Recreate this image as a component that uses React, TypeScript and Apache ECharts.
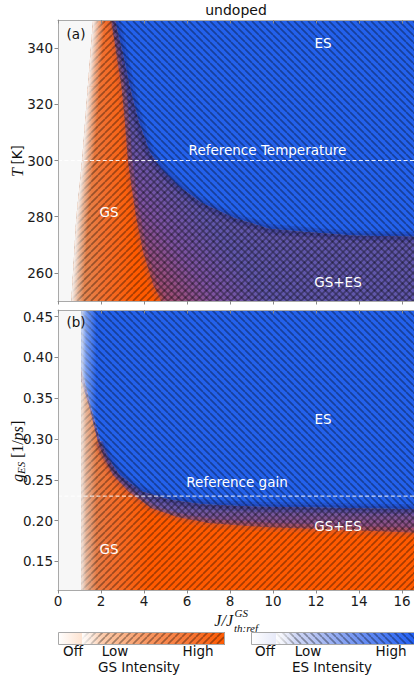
import { useEffect, useRef } from 'react';
import * as echarts from 'echarts';

// ---------- data ----------
// x axis: J / J_th:ref^GS
const J_RANGE = [0, 17];
const X_TICKS = [0, 2, 4, 6, 8, 10, 12, 14, 16];

// Panel (a): temperature T [K]
const T_RANGE = [250, 350];
const T_TICKS = [260, 280, 300, 320, 340];
const REF_T = 300;
// GS lasing threshold (left edge of colour)
const T_GS_TH = [350, 326.5, 300, 279.5, 250];
const J_GS_TH = [1.63, 1.39, 1.12, 0.85, 0.62];
// ES lasing threshold (orange -> purple/blue)
const T_ES_TH = [350, 338, 326.5, 314.7, 300, 291, 279.5, 267.6, 255.9, 250];
const J_ES_TH = [2.48, 2.71, 2.95, 3.1, 3.25, 3.41, 3.64, 3.95, 4.42, 4.8];
// GS quenching (purple -> blue)
const T_GS_Q = [350, 338, 326.5, 314.7, 303, 297, 291, 285, 279.5, 277, 275.7, 274.6, 273.3, 272.9, 272.7];
const J_GS_Q = [2.64, 3.02, 3.33, 3.72, 4.26, 4.8, 5.58, 6.67, 8.2, 9.3, 9.8, 11.4, 13.7, 16.7, 18];

// Panel (b): ES gain g_ES [1/ps]
const G_RANGE = [0.115, 0.458];
const G_TICKS = [0.15, 0.2, 0.25, 0.3, 0.35, 0.4, 0.45];
const REF_G = 0.23;
const JB_GS_TH = 1.1;
const G_ES_TH = [0.458, 0.37, 0.337, 0.296, 0.276, 0.256, 0.236, 0.215, 0.204, 0.197, 0.194, 0.192, 0.189, 0.185, 0.184];
const JB_ES_TH = [1.1, 1.1, 1.48, 1.86, 2.17, 2.56, 3.26, 4.34, 5.58, 7.0, 8.5, 9.8, 12.9, 16.7, 18];
const G_GS_Q = [0.385, 0.337, 0.296, 0.276, 0.256, 0.236, 0.226, 0.22, 0.217, 0.216, 0.214, 0.214];
const JB_GS_Q = [1.1, 1.55, 1.98, 2.33, 2.87, 3.87, 5.15, 6.7, 9.3, 12, 16.7, 18];

// ---------- styling ----------
const FONT = 'DejaVu Sans';
const SERIF = 'Liberation Serif';
const BG = '#f7f7f7';
const BLUE = '#2361ec';

function hatch(dir: number, size = 7, lw = 1.7, color = 'rgba(0,0,0,0.34)') {
  const cv = document.createElement('canvas');
  cv.width = size;
  cv.height = size;
  const ctx = cv.getContext('2d')!;
  ctx.strokeStyle = color;
  ctx.lineWidth = lw;
  ctx.beginPath();
  for (let k = -1; k <= 1; k++) {
    if (dir === 1) {
      ctx.moveTo(k * size, size);
      ctx.lineTo(k * size + size, 0);
    } else {
      ctx.moveTo(k * size, 0);
      ctx.lineTo(k * size + size, size);
    }
  }
  ctx.stroke();
  return { image: cv.toDataURL(), repeat: 'repeat', imageWidth: size, imageHeight: size };
}

function lin(x: number, y: number, x2: number, y2: number, stops: [number, string][]) {
  return {
    type: 'linear', x, y, x2, y2, global: true,
    colorStops: stops.map(([offset, color]) => ({ offset, color })),
  };
}

const poly = (points: number[][], fill: any) => ({ type: 'polygon', shape: { points }, style: { fill } });
const soft = (points: number[][], color: string, widths: number[]) =>
  widths.map((w) => ({
    type: 'polyline', shape: { points, smooth: 0.3 },
    style: { stroke: color, lineWidth: w, fill: null, lineJoin: 'round', lineCap: 'butt' },
  }));

export default function App() {
  const ref = useRef<HTMLDivElement>(null);
  useEffect(() => {
    const el = ref.current!;
    const chart = echarts.init(el, undefined, { renderer: 'svg' });
    const hGS = hatch(1);
    const hES = hatch(-1);

    const renderA = (_p: any, api: any) => {
      const c = (j: number, t: number) => api.coord([j, t]);
      const toPx = (pts: number[][]) => pts.map((p) => c(p[0], p[1]));
      const [TMIN, TMAX] = T_RANGE;
      const XR = J_RANGE[1] + 1;
      const gsTh = J_GS_TH.map((j, i) => [j, T_GS_TH[i]]);
      const esTh = J_ES_TH.map((j, i) => [j, T_ES_TH[i]]);
      const q = J_GS_Q.map((j, i) => [j, T_GS_Q[i]]);
      const qr = q.slice().reverse();
      const gsPoly = toPx([...gsTh, [XR, TMIN], ...qr]);
      const esPoly = toPx([...esTh, [XR, TMIN], [XR, TMAX]]);
      const esOnly = toPx([...q, [XR, TMAX]]);
      const overlap = toPx([...esTh, [XR, TMIN], ...qr]);
      const bg = toPx([[J_RANGE[0], TMAX], [XR, TMAX], [XR, TMIN], [J_RANGE[0], TMIN]]);

      const g0 = c(1.0, 300), g1 = c(3.6, 300);
      const gsFill = lin(g0[0], 0, g1[0], 0, [[0, '#e08a58'], [0.45, '#f26e2c'], [1, '#ff5a00']]);
      const o0 = c(5, 250), o1 = c(8, 268);
      const ovFill = lin(o0[0], o0[1], o1[0], o1[1], [[0, '#a24c6e'], [0.5, '#7d52a0'], [1, '#6056aa']]);

      const children: any[] = [
        poly(bg, BG),
        poly(gsPoly, gsFill),
        poly(overlap, ovFill),
        poly(esOnly, BLUE),
        ...soft(toPx(esTh), 'rgba(200,85,60,0.28)', [9, 4]),
        ...soft(toPx(q), 'rgba(35,45,135,0.24)', [10, 5]),
        poly(gsPoly, hGS),
        poly(esPoly, hES),
      ];
      // soft fade at GS threshold
      const th = toPx(gsTh);
      const W = 12;
      for (let i = 0; i < th.length - 1; i++) {
        const a = th[i], b = th[i + 1];
        const dx = b[0] - a[0], dy = b[1] - a[1];
        const L = Math.hypot(dx, dy);
        let nx = dy / L, ny = -dx / L;
        if (nx < 0) { nx = -nx; ny = -ny; }
        const pts = [a, b, [b[0] + nx * W, b[1] + ny * W], [a[0] + nx * W, a[1] + ny * W]];
        children.push(poly(pts, lin(a[0], a[1], a[0] + nx * W, a[1] + ny * W,
          [[0, 'rgba(247,247,247,0.95)'], [0.5, 'rgba(247,247,247,0.4)'], [1, 'rgba(247,247,247,0)']])));
      }
      return { type: 'group', children };
    };

    const renderB = (_p: any, api: any) => {
      const c = (j: number, g: number) => api.coord([j, g]);
      const toPx = (pts: number[][]) => pts.map((p) => c(p[0], p[1]));
      const [GMIN, GMAX] = G_RANGE;
      const XR = J_RANGE[1] + 1;
      const esTh = JB_ES_TH.map((j, i) => [j, G_ES_TH[i]]);
      const q = JB_GS_Q.map((j, i) => [j, G_GS_Q[i]]);
      const qr = q.slice().reverse();
      const gsPoly = toPx([[JB_GS_TH, GMIN], ...q, [XR, GMIN]]);
      const esPoly = toPx([...esTh, [XR, GMAX]]);
      const esOnly = toPx([[JB_GS_TH, GMAX], ...q, [XR, GMAX]]);
      const overlap = toPx([...esTh.slice(1), ...qr]);
      const bg = toPx([[J_RANGE[0], GMAX], [XR, GMAX], [XR, GMIN], [J_RANGE[0], GMIN]]);

      const g0 = c(JB_GS_TH, 0.2), g1 = c(4.2, 0.2);
      const gsFill = lin(g0[0], 0, g1[0], 0, [[0, '#d98c60'], [0.4, '#f07032'], [1, '#ff5a00']]);
      const o0 = c(8, 0.188), o1 = c(8, 0.214);
      const ovFill = lin(0, o0[1], 0, o1[1], [[0, '#9a4e78'], [1, '#6a58a8']]);
      const f0 = c(JB_GS_TH, 0.3);
      const fade = toPx([[JB_GS_TH, GMAX], [JB_GS_TH, GMIN]]);
      const FW = 15;
      const fadePts = [fade[0], [fade[0][0] + FW, fade[0][1]], [fade[1][0] + FW, fade[1][1]], fade[1]];

      const children: any[] = [
        poly(bg, BG),
        poly(gsPoly, gsFill),
        poly(overlap, ovFill),
        poly(esOnly, BLUE),
        ...soft(toPx(esTh.slice(3)), 'rgba(200,85,60,0.28)', [9, 4]),
        ...soft(toPx(q.slice(2)), 'rgba(35,45,135,0.24)', [10, 5]),
        poly(gsPoly, hGS),
        poly(esPoly, hES),
        poly(fadePts, lin(f0[0], 0, f0[0] + FW, 0,
          [[0, 'rgba(247,247,247,0.8)'], [0.3, 'rgba(247,247,247,0.4)'], [1, 'rgba(247,247,247,0)']])),
      ];
      return { type: 'group', children };
    };

    const lab = { color: '#1a1a1a', fontSize: 13.5, fontFamily: FONT };
    const axisLineStyle = { color: '#a9a9a9', width: 1 };
    const xAxis = (grid: number, position: string, showLabel: boolean, inside: boolean) => ({
      type: 'value', gridIndex: grid, position, min: J_RANGE[0], max: J_RANGE[1], z: 10,
      axisLine: { show: true, onZero: false, lineStyle: axisLineStyle },
      axisTick: { show: true, inside, length: 3.5, lineStyle: { color: '#8a8a8a' }, customValues: X_TICKS },
      axisLabel: { show: showLabel, ...lab, margin: 4, customValues: X_TICKS },
      splitLine: { show: false },
    });
    const yAxis = (grid: number, range: number[], ticks: number[], fmt: (v: number) => string) => ({
      type: 'value', gridIndex: grid, min: range[0], max: range[1], z: 10,
      axisLine: { show: true, onZero: false, lineStyle: axisLineStyle },
      axisTick: { show: true, length: 3.5, lineStyle: { color: '#8a8a8a' }, customValues: ticks },
      axisLabel: { show: true, ...lab, margin: 5, customValues: ticks, formatter: fmt },
      splitLine: { show: false },
    });

    const txt = (x: number, y: number, text: string, o: any = {}) => ({
      type: 'text', x, y, z: 100,
      style: {
        text, fill: '#ffffff', fontSize: 13.5, fontFamily: FONT, lineHeight: 14,
        align: 'center', verticalAlign: 'middle', textAlign: 'center', textVerticalAlign: 'middle', ...o,
      },
    });
    const dark = { fill: '#111111' };
    const it = (size: number) => ({ fill: '#111111', fontFamily: SERIF, fontStyle: 'italic', fontSize: size, align: 'left', textAlign: 'left' });
    const up = (size: number) => ({ fill: '#111111', fontFamily: SERIF, fontSize: size, align: 'left', textAlign: 'left' });

    const cbGS = { x: 58, y: 632, w: 167, h: 13 };
    const cbES = { x: 251, y: 632, w: 170, h: 13 };

    const graphic: any[] = [
      txt(236, 10, 'undoped', { ...dark, fontSize: 14 }),
      txt(76, 34, '(a)', dark),
      txt(323, 43, 'ES'),
      txt(267.5, 150, 'Reference Temperature'),
      txt(109, 212, 'GS'),
      txt(338, 282, 'GS+ES'),
      txt(76, 322, '(b)', dark),
      txt(323, 419, 'ES'),
      txt(237, 482, 'Reference gain'),
      txt(338, 526, 'GS+ES'),
      txt(109, 549, 'GS'),
      // y label (a)
      {
        type: 'group', x: 17, y: 177, rotation: Math.PI / 2, z: 100,
        children: [
          { type: 'text', x: 0, y: 0, z: 100, style: { text: 'T', ...it(16), verticalAlign: 'middle', textVerticalAlign: 'middle' } },
          { type: 'text', x: 12.5, y: 0, z: 100, style: { text: '[K]', fill: '#111111', fontFamily: FONT, fontSize: 13.5, align: 'left', textAlign: 'left', verticalAlign: 'middle', textVerticalAlign: 'middle' } },
        ],
      },
      // y label (b)
      {
        type: 'group', x: 17, y: 482, rotation: Math.PI / 2, z: 100,
        children: [
          { type: 'text', x: 0, y: 0, z: 100, style: { text: 'g', ...it(16), verticalAlign: 'middle', textVerticalAlign: 'middle' } },
          { type: 'text', x: 8, y: 4, z: 100, style: { text: 'ES', ...it(11), verticalAlign: 'middle', textVerticalAlign: 'middle' } },
          { type: 'text', x: 24, y: 0, z: 100, style: { text: '[1/', ...up(16), verticalAlign: 'middle', textVerticalAlign: 'middle' } },
          { type: 'text', x: 41.5, y: 0, z: 100, style: { text: 'ps', ...it(16), verticalAlign: 'middle', textVerticalAlign: 'middle' } },
          { type: 'text', x: 56, y: 0, z: 100, style: { text: ']', ...up(16), verticalAlign: 'middle', textVerticalAlign: 'middle' } },
        ],
      },
      // x label
      { type: 'text', x: 233, y: 620, z: 100, style: { text: 'J/J', ...it(16), align: 'right', textAlign: 'right', verticalAlign: 'middle', textVerticalAlign: 'middle' } },
      { type: 'text', x: 234.5, y: 612.5, z: 100, style: { text: 'GS', ...it(11), verticalAlign: 'middle', textVerticalAlign: 'middle' } },
      { type: 'text', x: 234, y: 627.5, z: 100, style: { text: 'th:ref', ...it(11), verticalAlign: 'middle', textVerticalAlign: 'middle' } },
      // GS colorbar
      {
        type: 'rect', z: 100, shape: { x: cbGS.x, y: cbGS.y, width: cbGS.w, height: cbGS.h },
        style: { fill: lin(cbGS.x, 0, cbGS.x + cbGS.w, 0, [[0, '#ffffff'], [0.15, '#fde2cf'], [0.32, '#fbc09a'], [0.55, '#f8945e'], [0.8, '#f87432'], [1, '#ff5a00']]) },
      },
      { type: 'rect', z: 101, shape: { x: 82, y: cbGS.y, width: cbGS.x + cbGS.w - 82, height: cbGS.h }, style: { fill: hGS } },
      {
        type: 'rect', z: 102, shape: { x: 82, y: cbGS.y, width: 20, height: cbGS.h },
        style: { fill: lin(82, 0, 102, 0, [[0, 'rgba(255,255,255,0.9)'], [1, 'rgba(255,255,255,0)']]) },
      },
      { type: 'rect', z: 103, shape: { x: cbGS.x + 0.5, y: cbGS.y + 0.5, width: cbGS.w - 1, height: cbGS.h - 1 }, style: { fill: 'none', stroke: '#a8a8a8', lineWidth: 1 } },
      // ES colorbar
      {
        type: 'rect', z: 100, shape: { x: cbES.x, y: cbES.y, width: cbES.w, height: cbES.h },
        style: { fill: lin(cbES.x, 0, cbES.x + cbES.w, 0, [[0, '#ffffff'], [0.15, '#e6e9f8'], [0.35, '#bcc8f3'], [0.65, '#6a8ff2'], [1, '#1a5cf5']]) },
      },
      { type: 'rect', z: 101, shape: { x: 276, y: cbES.y, width: cbES.x + cbES.w - 276, height: cbES.h }, style: { fill: hES } },
      {
        type: 'rect', z: 102, shape: { x: 276, y: cbES.y, width: 20, height: cbES.h },
        style: { fill: lin(276, 0, 296, 0, [[0, 'rgba(255,255,255,0.9)'], [1, 'rgba(255,255,255,0)']]) },
      },
      { type: 'rect', z: 103, shape: { x: cbES.x + 0.5, y: cbES.y + 0.5, width: cbES.w - 1, height: cbES.h - 1 }, style: { fill: 'none', stroke: '#a8a8a8', lineWidth: 1 } },
      txt(73, 651, 'Off', dark),
      txt(115, 651, 'Low', dark),
      txt(198, 651, 'High', dark),
      txt(139, 666.5, 'GS Intensity', dark),
      txt(265, 651, 'Off', dark),
      txt(308, 651, 'Low', dark),
      txt(391, 651, 'High', dark),
      txt(332, 666.5, 'ES Intensity', dark),
    ];

    const dash = { color: 'rgba(255,255,255,0.92)', width: 1, type: [4, 2.4] };

    chart.setOption({
      animation: false,
      grid: [
        { left: 58, top: 20, width: 365.5, height: 281, show: false },
        { left: 58, top: 310, width: 365.5, height: 280, show: false },
      ],
      xAxis: [
        xAxis(0, 'bottom', false, false),
        xAxis(0, 'top', false, true),
        xAxis(1, 'bottom', true, false),
        xAxis(1, 'top', false, true),
      ],
      yAxis: [
        yAxis(0, T_RANGE, T_TICKS, (v: number) => String(v)),
        yAxis(1, G_RANGE, G_TICKS, (v: number) => v.toFixed(2)),
      ],
      series: [
        { type: 'custom', xAxisIndex: 0, yAxisIndex: 0, renderItem: renderA, data: [[1, 300]], clip: true, silent: true, z: 2 },
        { type: 'custom', xAxisIndex: 2, yAxisIndex: 1, renderItem: renderB, data: [[1, 0.3]], clip: true, silent: true, z: 2 },
        { type: 'line', xAxisIndex: 0, yAxisIndex: 0, data: [[J_RANGE[0], REF_T], [J_RANGE[1], REF_T]], symbol: 'none', lineStyle: dash, silent: true, z: 5 },
        { type: 'line', xAxisIndex: 2, yAxisIndex: 1, data: [[J_RANGE[0], REF_G], [J_RANGE[1], REF_G]], symbol: 'none', lineStyle: dash, silent: true, z: 5 },
      ],
      graphic,
    });
    return () => chart.dispose();
  }, []);
  return <div ref={ref} style={{ position: 'fixed', left: 0, top: 0, width: 430, height: 677, background: '#ffffff' }} />;
}
